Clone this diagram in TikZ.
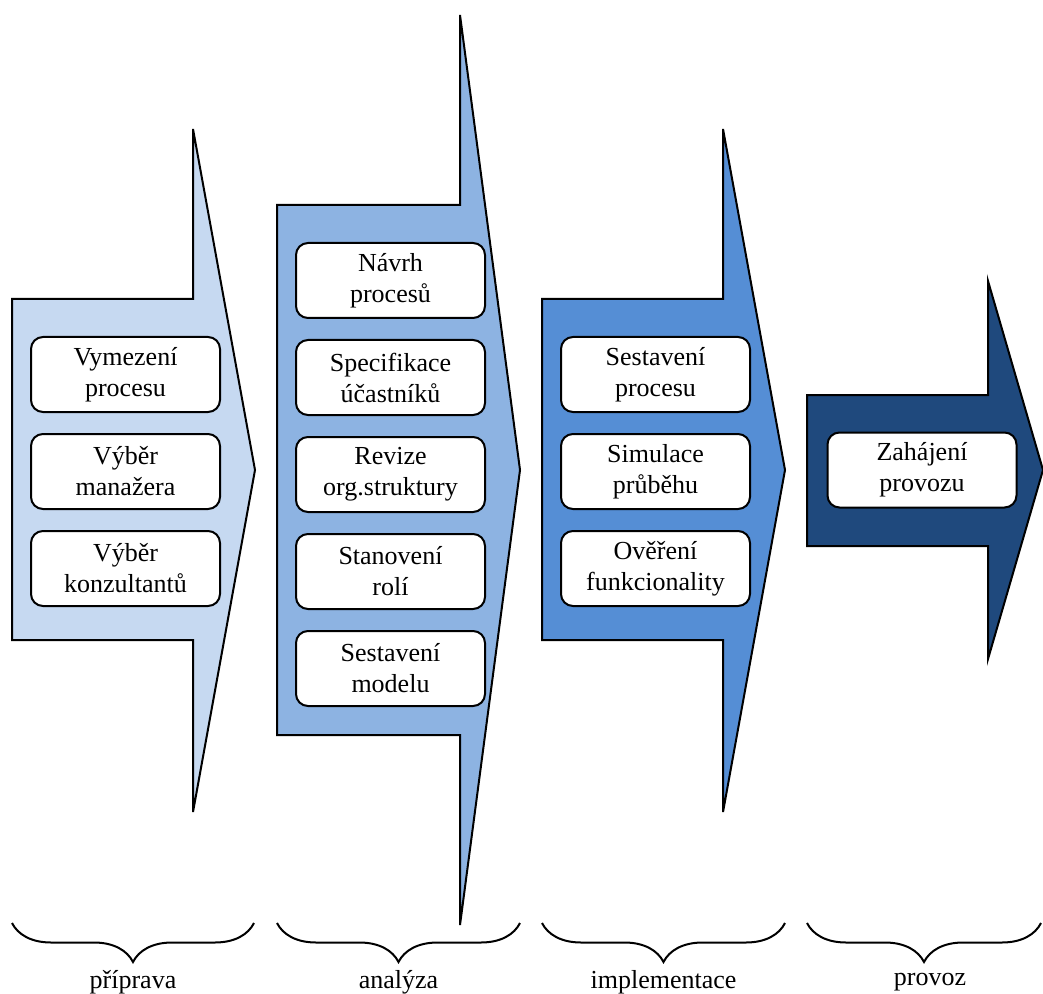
\documentclass[tikz,border=0pt]{standalone}
\usepackage{fontspec}
\setmainfont{Liberation Serif}
\usepackage{tikz}
\usetikzlibrary{positioning,decorations.pathreplacing}
\definecolor{priprava}{HTML}{C6D9F1}
\definecolor{analyza}{HTML}{8DB3E2}
\definecolor{implementace}{HTML}{558ED5}
\definecolor{provoz}{HTML}{1F497D}

\tikzset{
  faze/.style={draw, line width=1pt, line join=miter},
  krok/.style={draw, line width=1pt, rounded corners=6pt, fill=white, minimum width=94.5pt, minimum height=37.5pt, align=center, inner sep=2pt, font=\fontsize{13}{15.5}\selectfont},
  zavorka/.style={decorate, decoration={brace, mirror, amplitude=19.5pt}, line width=1pt},
  stitek/.style={font=\fontsize{13}{15.5}\selectfont},
}

\begin{document}
\begin{tikzpicture}[x=0.5pt, y=-0.5pt]
  \useasboundingbox (0,0) rectangle (1043,994);

  % priprava
  \draw[faze, fill=priprava] (12,299) -- (193,299) -- (193,129) -- (255,470) -- (193,812) -- (193,640) -- (12,640) -- cycle;
  \node[krok] (vymezeni) at (125.5,374.5) {Vymezení\\procesu};
  \node[krok, below=10pt of vymezeni] (manazer) {Výběr\\manažera};
  \node[krok, below=10pt of manazer] (konzultanti) {Výběr\\konzultantů};

  % analyza
  \draw[faze, fill=analyza] (277,205) -- (460,205) -- (460,15) -- (520,470) -- (460,925) -- (460,735) -- (277,735) -- cycle;
  \node[krok] (navrh) at (390.5,280.5) {Návrh\\procesů};
  \node[krok, below=10pt of navrh] (ucastnici) {Specifikace\\účastníků};
  \node[krok, below=10pt of ucastnici] (revize) {Revize\\org.struktury};
  \node[krok, below=10pt of revize] (role) {Stanovení\\rolí};
  \node[krok, below=10pt of role] (model) {Sestavení\\modelu};

  % implementace
  \draw[faze, fill=implementace] (542,299) -- (723,299) -- (723,129) -- (785,470) -- (723,812) -- (723,640) -- (542,640) -- cycle;
  \node[krok] (sestaveni) at (655.5,374.5) {Sestavení\\procesu};
  \node[krok, below=10pt of sestaveni] (simulace) {Simulace\\průběhu};
  \node[krok, below=10pt of simulace] (overeni) {Ověření\\funkcionality};

  % provoz
  \draw[faze, fill=provoz] (807,395) -- (988,395) -- (988,281) -- (1043,470) -- (988,659) -- (988,546) -- (807,546) -- cycle;
  \node[krok] (zahajeni) at (922,470) {Zahájení\\provozu};

  % zavorky
  \coordinate (z1a) at (12,923);  \coordinate (z1b) at (254,923);
  \coordinate (z2a) at (277,923); \coordinate (z2b) at (520,923);
  \coordinate (z3a) at (542,923); \coordinate (z3b) at (785,923);
  \coordinate (z4a) at (807,923); \coordinate (z4b) at (1041,923);
  \draw[zavorka] (z1a) -- (z1b);
  \draw[zavorka] (z2a) -- (z2b);
  \draw[zavorka] (z3a) -- (z3b);
  \draw[zavorka] (z4a) -- (z4b);
  \node[stitek] (lpriprava) at (133,982) {příprava};
  \node[stitek] (lanalyza) at (398.5,982) {analýza};
  \node[stitek] (limplementace) at (663.5,982) {implementace};
  \node[stitek] (lprovoz) at (930,982) {provoz};
\end{tikzpicture}
\end{document}
